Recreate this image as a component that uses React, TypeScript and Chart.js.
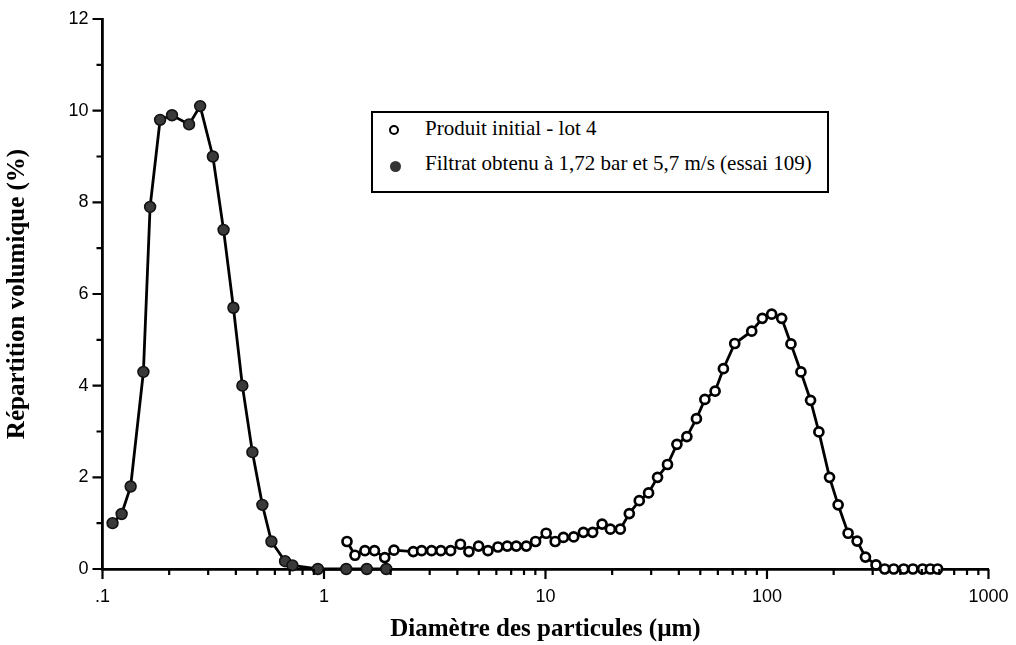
import React, { useEffect, useRef } from 'react';
import { Chart, registerables } from 'chart.js';

Chart.register(...registerables);

// ---- Data ----
const initialX = [1.27, 1.38, 1.53, 1.69, 1.88, 2.07, 2.53, 2.76, 3.06, 3.37, 3.73, 4.13, 4.51, 4.99, 5.5, 6.1, 6.72, 7.38, 8.19, 9.02, 10.07, 11.06, 12.05, 13.41, 14.83, 16.33, 18.01, 19.63, 21.77, 23.9, 26.51, 29.2, 32.06, 35.55, 39.2, 43.48, 48.03, 52.42, 58.32, 63.57, 71.53, 85.33, 95.25, 105.0, 116.5, 128.3, 142.3, 157.3, 171.5, 191.6, 209.5, 232.4, 255.2, 278.3, 310.7, 340.0, 373.4, 414.2, 456.0, 504.4, 546.2, 589.3];
const initialY = [0.6, 0.3, 0.4, 0.4, 0.25, 0.41, 0.38, 0.4, 0.4, 0.4, 0.4, 0.54, 0.38, 0.5, 0.4, 0.48, 0.5, 0.5, 0.5, 0.6, 0.78, 0.6, 0.69, 0.7, 0.8, 0.8, 0.98, 0.87, 0.87, 1.21, 1.49, 1.66, 2.0, 2.28, 2.72, 2.89, 3.28, 3.7, 3.88, 4.37, 4.92, 5.19, 5.47, 5.56, 5.47, 4.91, 4.3, 3.68, 2.99, 2.0, 1.4, 0.78, 0.61, 0.26, 0.09, 0, 0, 0, 0, 0, 0, 0];

const filtratX = [0.111, 0.122, 0.134, 0.153, 0.164, 0.182, 0.206, 0.246, 0.276, 0.315, 0.352, 0.39, 0.428, 0.475, 0.527, 0.579, 0.667, 0.72, 0.938, 1.26, 1.56, 1.91];
const filtratY = [1.0, 1.2, 1.8, 4.3, 7.9, 9.8, 9.9, 9.7, 10.1, 9.0, 7.4, 5.7, 4.0, 2.55, 1.4, 0.6, 0.17, 0.08, 0, 0, 0, 0];

const xTickValues = [0.1, 1, 10, 100, 1000];
const xTickLabels = ['.1', '1', '10', '100', '1000'];
const yTickValues = [0, 2, 4, 6, 8, 10, 12];
const yTickLabels = ['0', '2', '4', '6', '8', '10', '12'];

const seriesLabels = ['Produit initial - lot 4', 'Filtrat obtenu à 1,72 bar et 5,7 m/s (essai 109)'];
const xTitle = 'Diamètre des particules (µm)';
const yTitle = 'Répartition volumique (%)';

const W = 1016;
const H = 645;

const tickPlugin = {
  id: 'customTicks',
  afterDraw(chart: any) {
    const ctx = chart.ctx;
    const xs = chart.scales.x;
    const ys = chart.scales.y;
    ctx.save();
    ctx.strokeStyle = '#000';
    ctx.lineWidth = 2.2;
    ctx.beginPath();
    for (let e = -1; e <= 3; e++) {
      for (let k = 1; k <= 9; k++) {
        const v = k * Math.pow(10, e);
        if (v > 1000.0001) continue;
        const px = xs.getPixelForValue(v);
        const len = k === 1 ? 10 : 6;
        ctx.moveTo(px, ys.bottom);
        ctx.lineTo(px, ys.bottom + len);
      }
    }
    ys.ticks.forEach((t: any) => {
      const py = ys.getPixelForValue(t.value);
      const len = t.value % 2 === 0 ? 10 : 6;
      ctx.moveTo(xs.left - len, py);
      ctx.lineTo(xs.left, py);
    });
    ctx.stroke();
    ctx.restore();
  },
};

export default function App() {
  const ref = useRef<HTMLCanvasElement | null>(null);

  useEffect(() => {
    if (!ref.current) return;
    const chart = new Chart(ref.current, {
      type: 'line',
      data: {
        datasets: [
          {
            label: seriesLabels[0],
            data: initialX.map((x, i) => ({ x, y: initialY[i] })),
            borderColor: '#000',
            borderWidth: 2.8,
            backgroundColor: '#fff',
            pointBackgroundColor: '#fff',
            pointBorderColor: '#000',
            pointBorderWidth: 2.7,
            pointRadius: 4.5,
            tension: 0,
            clip: false,
          },
          {
            label: seriesLabels[1],
            data: filtratX.map((x, i) => ({ x, y: filtratY[i] })),
            borderColor: '#000',
            borderWidth: 2.8,
            backgroundColor: '#3a3a3a',
            pointBackgroundColor: '#3a3a3a',
            pointBorderColor: '#111',
            pointBorderWidth: 1.6,
            pointRadius: 5.4,
            tension: 0,
            clip: false,
          },
        ],
      },
      options: {
        animation: false,
        responsive: false,
        maintainAspectRatio: false,
        layout: { padding: { left: 0, right: 27.5, top: 19, bottom: 0 } },
        plugins: { legend: { display: false }, tooltip: { enabled: false } },
        scales: {
          x: {
            type: 'logarithmic',
            position: 'bottom',
            min: 0.1,
            max: 1000,
            afterBuildTicks: (s: any) => {
              s.ticks = xTickValues.map((v) => ({ value: v, major: true }));
            },
            afterFit: (s: any) => {
              s.height = H - 569;
            },
            ticks: {
              autoSkip: false,
              maxRotation: 0,
              minRotation: 0,
              padding: 7.5,
              color: '#000',
              font: { family: "'Liberation Sans', Arial, sans-serif", size: 18 },
              callback: (v: any) => {
                const i = xTickValues.findIndex((t) => Math.abs(t - Number(v)) < 1e-6 * t);
                return i >= 0 ? xTickLabels[i] : '';
              },
            },
            grid: { display: false, drawTicks: true, tickLength: 10 },
            border: { display: true, color: '#000', width: 2.8 },
            title: {
              display: true,
              text: xTitle,
              color: '#000',
              font: { family: "'Liberation Serif', 'Times New Roman', serif", size: 25, weight: 'bold', lineHeight: 1 },
              padding: { top: 0, bottom: 3 },
            },
          },
          y: {
            type: 'linear',
            min: 0,
            max: 12,
            afterFit: (s: any) => {
              s.width = 102.5;
            },
            ticks: {
              stepSize: 1,
              padding: 4,
              color: '#000',
              font: { family: "'Liberation Sans', Arial, sans-serif", size: 18 },
              callback: (v: any) => {
                const i = yTickValues.indexOf(Number(v));
                return i >= 0 ? yTickLabels[i] : '';
              },
            },
            grid: { display: false, drawTicks: true, tickLength: 10 },
            border: { display: true, color: '#000', width: 2.8 },
            title: {
              display: true,
              text: yTitle,
              color: '#000',
              font: { family: "'Liberation Serif', 'Times New Roman', serif", size: 25, weight: 'bold', lineHeight: 1 },
              padding: { top: 5, bottom: 0 },
            },
          },
        },
      },
      plugins: [tickPlugin],
    } as any);
    return () => chart.destroy();
  }, []);

  const legendFont = "'Liberation Serif', 'Times New Roman', serif";

  return (
    <div style={{ position: 'absolute', left: 0, top: 0, width: W, height: H, background: '#fff' }}>
      <canvas ref={ref} width={W} height={H} style={{ display: 'block', width: W, height: H }} />
      <div
        style={{
          position: 'absolute',
          left: 371,
          top: 111,
          width: 458,
          height: 82,
          boxSizing: 'border-box',
          border: '2px solid #000',
          background: '#fff',
        }}
      />
      <div
        style={{
          position: 'absolute',
          left: 394 - 5,
          top: 130 - 5,
          width: 10,
          height: 10,
          boxSizing: 'border-box',
          borderRadius: '50%',
          border: '2.5px solid #000',
          background: '#fff',
        }}
      />
      <div
        style={{
          position: 'absolute',
          left: 395 - 5.5,
          top: 166 - 5.5,
          width: 11,
          height: 11,
          borderRadius: '50%',
          background: '#333',
        }}
      />
      <div
        style={{
          position: 'absolute',
          left: 425,
          top: 118,
          fontFamily: legendFont,
          fontSize: 21,
          lineHeight: '21px',
          color: '#000',
          whiteSpace: 'nowrap',
        }}
      >
        {seriesLabels[0]}
      </div>
      <div
        style={{
          position: 'absolute',
          left: 425,
          top: 153,
          fontFamily: legendFont,
          fontSize: 21,
          lineHeight: '21px',
          color: '#000',
          whiteSpace: 'nowrap',
        }}
      >
        {seriesLabels[1]}
      </div>
    </div>
  );
}
